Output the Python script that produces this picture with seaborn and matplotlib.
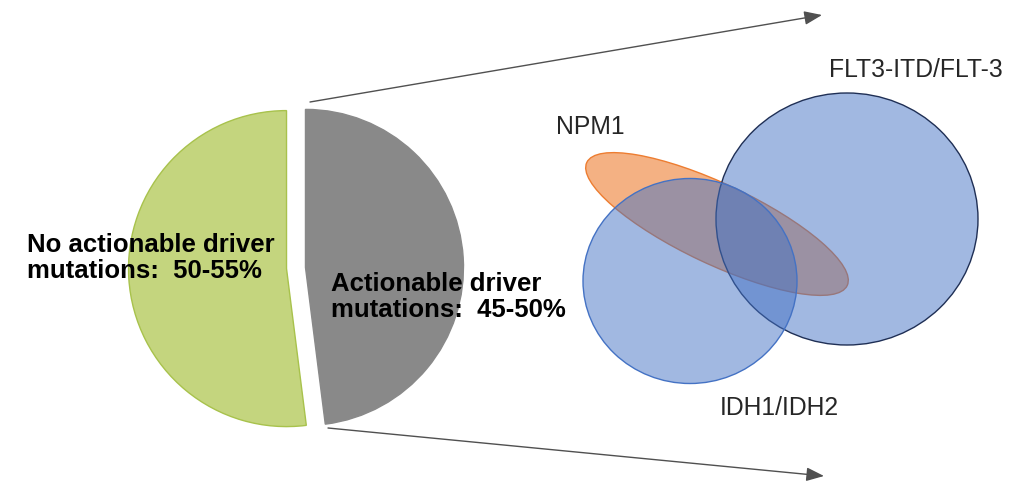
import matplotlib.pyplot as plt
import seaborn as sns
from matplotlib.patches import Ellipse

# pie data (share of patients, %)
pie_labels = ["No actionable driver\nmutations:  50-55%", "Actionable driver\nmutations:  45-50%"]
pie_values = [52, 48]
pie_colors = ["#c4d57e", "#898989"]

# overlapping gene groups
gene_names = ["NPM1", "FLT3-ITD/FLT-3", "IDH1/IDH2"]

sns.set_theme(style="white")
plt.rcParams['font.family'] = ['Liberation Sans', 'DejaVu Sans']

fig = plt.figure(figsize=(10.31, 4.83), dpi=100)
ax = fig.add_axes([0, 0, 1, 1])

H = 483  # image height, used to flip y so pixel positions read top-down

# explode is in data units here (pixels), not a fraction of the radius
wedges, _ = ax.pie(pie_values, colors=pie_colors, startangle=90, counterclock=True,
                   explode=[9.5, 9.5], center=(296, H - 268), radius=158,
                   wedgeprops=dict(linewidth=1))
wedges[0].set_edgecolor("#a8c24c")
wedges[1].set_edgecolor("#898989")

ax.text(27, H - 258, pie_labels[0], fontsize=18.5, fontweight='bold',
        ha='left', va='center', linespacing=1.15, color='black')
ax.text(331, H - 297, pie_labels[1], fontsize=18.5, fontweight='bold',
        ha='left', va='center', linespacing=1.15, color='black')

# arrows from pie to the detail view
arrow = dict(arrowstyle='-|>,head_length=0.9,head_width=0.35', color='#505050', lw=1,
             shrinkA=0, shrinkB=0)
ax.annotate('', xy=(822, H - 15), xytext=(310, H - 102), arrowprops=arrow)
ax.annotate('', xy=(824, H - 476), xytext=(328, H - 428), arrowprops=arrow)

# NPM1 ellipse underneath, blue circles translucent on top
ax.add_patch(Ellipse((717, H - 224), 288, 80, angle=-25.3, facecolor='#f4b183',
                     edgecolor='#ed7d31', lw=1, zorder=3))
ax.add_patch(Ellipse((847, H - 219), 262, 252, facecolor=(0.267, 0.447, 0.769, 0.5),
                     edgecolor='#1f2f55', lw=1, zorder=4))
ax.add_patch(Ellipse((690, H - 281), 214, 205, facecolor=(0.267, 0.447, 0.769, 0.5),
                     edgecolor='#4472c4', lw=1, zorder=5))

ax.text(556, H - 127, gene_names[0], fontsize=17.8, ha='left', va='center')
ax.text(829, H - 70, gene_names[1], fontsize=17.8, ha='left', va='center')
ax.text(720, H - 408, gene_names[2], fontsize=17.8, ha='left', va='center')

ax.set_xlim(0, 1031)
ax.set_ylim(0, H)
ax.set_aspect('equal')
ax.axis('off')

fig.savefig("out.png", dpi=100, facecolor='white')
